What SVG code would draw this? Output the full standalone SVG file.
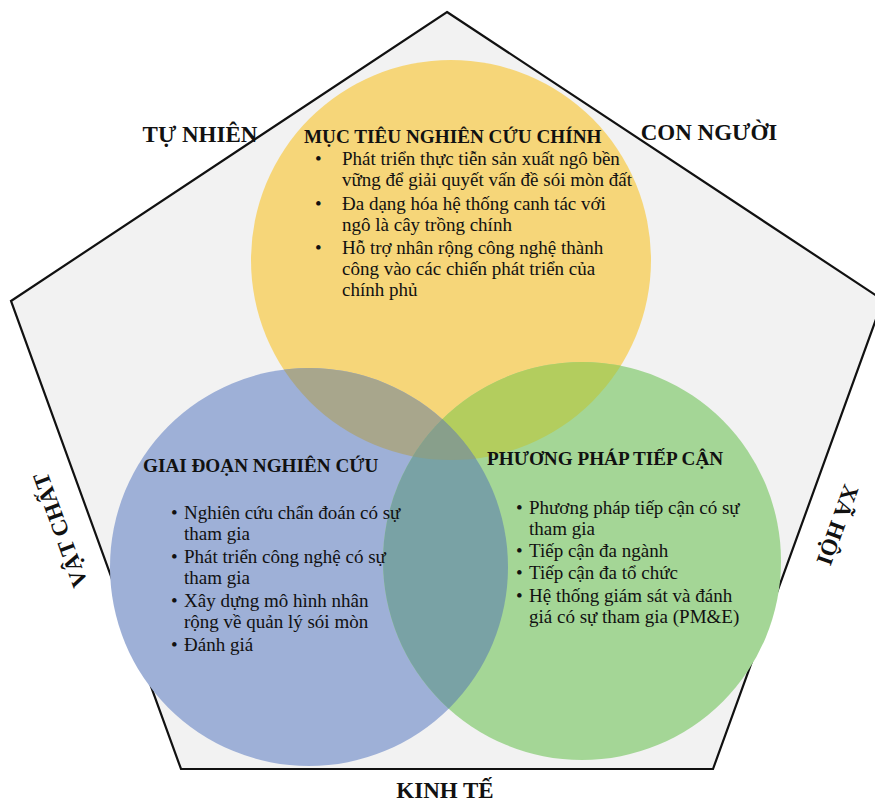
<svg xmlns="http://www.w3.org/2000/svg" width="875" height="802" viewBox="0 0 875 802">
<style>
.t{font-family:"Liberation Serif","Times New Roman",serif;fill:#111;}
.h{font-weight:bold;font-size:19.2px;}
.b{font-size:19px;}
.s{font-weight:bold;font-size:23px;}
</style>
<defs>
<clipPath id="cy"><circle cx="451" cy="260" r="200"/></clipPath>
<clipPath id="cb"><circle cx="309" cy="567" r="199"/></clipPath>
<clipPath id="cg"><circle cx="582" cy="561" r="199"/></clipPath>
</defs>
<rect width="875" height="802" fill="#fff"/>
<g id="pentagon">
<polygon points="447,12 883,300 713,769 181,769 11,301" fill="#f2f2f2" stroke="#111" stroke-width="2.2"/>
</g>
<g id="circles">
<circle cx="451" cy="260" r="200" fill="#f6d679"/>
<circle cx="309" cy="567" r="199" fill="#9eb0d7"/>
<circle cx="582" cy="561" r="199" fill="#a4d696"/>
<g clip-path="url(#cy)"><circle cx="309" cy="567" r="199" fill="#a8a68c"/><circle cx="582" cy="561" r="199" fill="#b3cd5e"/></g>
<g clip-path="url(#cb)"><circle cx="582" cy="561" r="199" fill="#79a2a5"/></g>
<g clip-path="url(#cy)"><g clip-path="url(#cb)"><circle cx="582" cy="561" r="199" fill="#889f8b"/></g></g>
</g>
<g id="labels">
<text class="t s" x="200" y="142" text-anchor="middle">TỰ NHIÊN</text>
<text class="t s" x="709" y="140" text-anchor="middle">CON NGƯỜI</text>
<text class="t s" x="445" y="798" text-anchor="middle">KINH TẾ</text>
<text class="t s" transform="translate(60,530) rotate(-110)" text-anchor="middle" dy="8">VẬT CHẤT</text>
<text class="t s" transform="translate(838,525) rotate(110)" text-anchor="middle" dy="8">XÃ HỘI</text>
</g>
<g id="node-muc-tieu">
<text class="t h" x="304" y="143">MỤC TIÊU NGHIÊN CỨU CHÍNH</text>
<g class="t b">
<text x="315" y="165">•</text>
<text x="342" y="165">Phát triển thực tiễn sản xuất ngô bền</text>
<text x="342" y="186">vững để giải quyết vấn đề sói mòn đất</text>
<text x="315" y="210">•</text>
<text x="342" y="210">Đa dạng hóa hệ thống canh tác với</text>
<text x="342" y="231">ngô là cây trồng chính</text>
<text x="315" y="254">•</text>
<text x="342" y="254">Hỗ trợ nhân rộng công nghệ thành</text>
<text x="342" y="275">công vào các chiến phát triển của</text>
<text x="342" y="296">chính phủ</text>
</g>
</g>
<g id="node-giai-doan">
<text class="t h" x="143" y="472">GIAI ĐOẠN NGHIÊN CỨU</text>
<g class="t b">
<text x="171" y="519">•</text>
<text x="184" y="519">Nghiên cứu chẩn đoán có sự</text>
<text x="184" y="540">tham gia</text>
<text x="171" y="563">•</text>
<text x="184" y="563">Phát triển công nghệ có sự</text>
<text x="184" y="584">tham gia</text>
<text x="171" y="607">•</text>
<text x="184" y="607">Xây dựng mô hình nhân</text>
<text x="184" y="628">rộng về quản lý sói mòn</text>
<text x="171" y="651">•</text>
<text x="184" y="651">Đánh giá</text>
</g>
</g>
<g id="node-phuong-phap">
<text class="t h" x="487" y="465">PHƯƠNG PHÁP TIẾP CẬN</text>
<g class="t b">
<text x="516" y="514">•</text>
<text x="529" y="514">Phương pháp tiếp cận có sự</text>
<text x="529" y="535">tham gia</text>
<text x="516" y="557">•</text>
<text x="529" y="557">Tiếp cận đa ngành</text>
<text x="516" y="579">•</text>
<text x="529" y="579">Tiếp cận đa tổ chức</text>
<text x="516" y="602">•</text>
<text x="529" y="602">Hệ thống giám sát và đánh</text>
<text x="529" y="623">giá có sự tham gia (PM&amp;E)</text>
</g>
</g>
</svg>
